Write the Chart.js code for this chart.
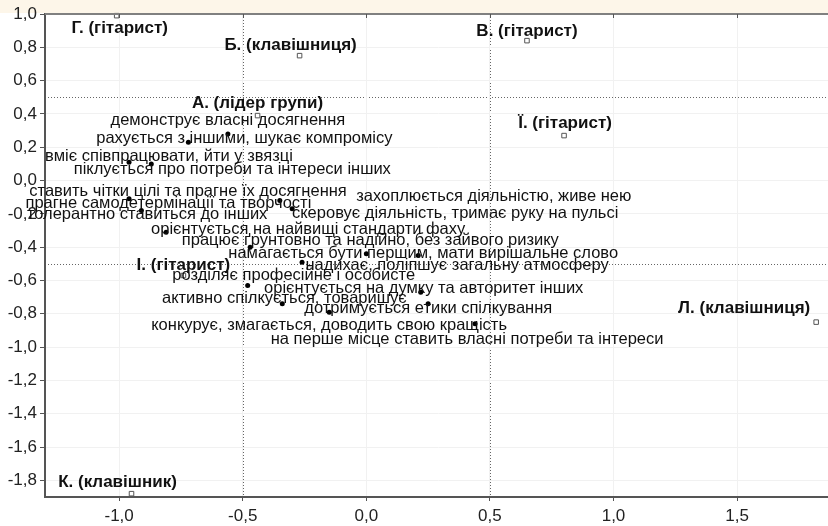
<!DOCTYPE html>
<html>
<head>
<meta charset="utf-8">
<script src="https://cdn.jsdelivr.net/npm/chart.js@4.4.1/dist/chart.umd.min.js"></script>
<style>
  html, body { margin: 0; padding: 0; background: #fff; overflow: hidden; }
  #wrap { position: relative; width: 836px; height: 526px; }
</style>
</head>
<body>
<div id="wrap"><canvas id="chart"></canvas></div>
<script>
// statements (filled dots)
const statements = [
    'демонструє власні досягнення',
    'рахується з іншими, шукає компромісу',
    'вміє співпрацювати, йти у звязці',
    'піклується про потреби та інтереси інших',
    'ставить чітки цілі та прагне їх досягнення',
    'прагне самодетермінації та творчості',
    'толерантно ставиться до інших',
    'захоплюється діяльністю, живе нею',
    'скеровує діяльність, тримає руку на пульсі',
    'орієнтується на найвищі стандарти фаху',
    'працює ґрунтовно та надійно, без зайвого ризику',
    'намагається бути першим, мати вирішальне слово',
    'надихає, поліпшує загальну атмосферу',
    'розділяє професійне і особисте',
    'орієнтується на думку та авторитет інших',
    'активно спілкується, товаришує',
    'дотримується етики спілкування',
    'конкурує, змагається, доводить свою кращість',
    'на перше місце ставить власні потреби та інтереси'
];
const statementX = [-0.56, -0.72, -0.96, -0.87, -0.96, -0.91, -0.81, -0.35, -0.30, -0.47,
                    0.00, 0.21, -0.26, -0.48, 0.22, -0.34, -0.15, 0.25, 0.44];
const statementY = [0.28, 0.23, 0.11, 0.10, -0.11, -0.18, -0.31, -0.12, -0.17, -0.40,
                    -0.44, -0.45, -0.49, -0.63, -0.67, -0.74, -0.79, -0.74, -0.86];

// band members (open squares)
const persons = [
    'Г. (гітарист)', 'Б. (клавішниця)', 'В. (гітарист)', 'Ї. (гітарист)',
    'Л. (клавішниця)', 'К. (клавішник)', 'А. (лідер групи)', 'І. (гітарист)'
];
const personX = [-1.01, -0.27, 0.65, 0.80, 1.82, -0.95, -0.44, -0.74];
const personY = [0.99, 0.75, 0.84, 0.27, -0.85, -1.88, 0.39, -0.57];

const xTicks = [-1.0, -0.5, 0.0, 0.5, 1.0, 1.5];
const yTicks = [1.0, 0.8, 0.6, 0.4, 0.2, 0.0, -0.2, -0.4, -0.6, -0.8, -1.0, -1.2, -1.4, -1.6, -1.8];
const refLinesX = [-0.5, 0.5];
const refLinesY = [0.5, -0.5];

// label placement, pixel offsets from the marker
const statementLabelOffset = [
    [0, -13], [56, -4], [40, -6], [81, 6], [59, -7], [27, -7], [-19, -18], [214, -4],
    [163, 5], [58, -18], [4, -13], [5, -2], [155, 3], [46, -10], [3, -4], [2, -5],
    [99, -4], [-99, 22], [-8, 16]
];
const personLabelOffset = [
    [3, 13], [-9, -10], [0, -9], [1, -12], [-72, -14], [-14, -11], [0, -12], [0, -10]
];

const fmt = v => v.toFixed(1).replace('.', ',');
const FONT = '"Liberation Sans", Arial, sans-serif';

const labelsPlugin = {
    id: 'pointLabels',
    beforeDraw(chart) {
        const { ctx, chartArea, scales } = chart;
        ctx.save();
        // cream band at the very top
        ctx.fillStyle = '#fdf6e9';
        ctx.fillRect(0, 0, chart.width, chartArea.top - 1);
        // dotted reference lines
        ctx.strokeStyle = '#666';
        ctx.lineWidth = 1;
        ctx.setLineDash([1, 2]);
        refLinesX.forEach(v => {
            const x = Math.round(scales.x.getPixelForValue(v)) + 0.5;
            ctx.beginPath();
            ctx.moveTo(x, chartArea.top);
            ctx.lineTo(x, chartArea.bottom);
            ctx.stroke();
        });
        refLinesY.forEach(v => {
            const y = Math.round(scales.y.getPixelForValue(v)) + 0.5;
            ctx.beginPath();
            ctx.moveTo(chartArea.left, y);
            ctx.lineTo(chartArea.right, y);
            ctx.stroke();
        });
        ctx.restore();
    },
    afterDatasetsDraw(chart) {
        const { ctx, chartArea, scales } = chart;
        ctx.save();
        // top frame line with small ticks
        ctx.strokeStyle = '#808080';
        ctx.lineWidth = 2;
        ctx.beginPath();
        ctx.moveTo(chartArea.left, chartArea.top);
        ctx.lineTo(chartArea.right, chartArea.top);
        ctx.stroke();
        ctx.lineWidth = 1;
        ctx.strokeStyle = '#555';
        xTicks.forEach(v => {
            const x = Math.round(scales.x.getPixelForValue(v)) + 0.5;
            ctx.beginPath();
            ctx.moveTo(x, chartArea.top);
            ctx.lineTo(x, chartArea.top + 4);
            ctx.stroke();
        });

        ctx.fillStyle = '#111';
        ctx.textAlign = 'center';
        ctx.textBaseline = 'middle';
        ctx.font = '16.5px ' + FONT;
        statements.forEach((s, i) => {
            const x = scales.x.getPixelForValue(statementX[i]) + statementLabelOffset[i][0];
            const y = scales.y.getPixelForValue(statementY[i]) + statementLabelOffset[i][1];
            ctx.fillText(s, x, y);
        });
        ctx.font = 'bold 17px ' + FONT;
        persons.forEach((s, i) => {
            const x = scales.x.getPixelForValue(personX[i]) + personLabelOffset[i][0];
            const y = scales.y.getPixelForValue(personY[i]) + personLabelOffset[i][1];
            ctx.fillText(s, x, y);
        });
        ctx.restore();
    }
};

new Chart(document.getElementById('chart'), {
    type: 'scatter',
    data: {
        datasets: [
            {
                label: 'statements',
                data: statementX.map((x, i) => ({ x: x, y: statementY[i] })),
                pointStyle: 'circle',
                pointRadius: 2.5,
                backgroundColor: '#000',
                borderColor: '#000',
                borderWidth: 0,
                clip: false
            },
            {
                label: 'persons',
                data: personX.map((x, i) => ({ x: x, y: personY[i] })),
                pointStyle: 'rect',
                pointRadius: 3.2,
                backgroundColor: '#fff',
                borderColor: '#555',
                borderWidth: 1,
                clip: false
            }
        ]
    },
    options: {
        responsive: true,
        maintainAspectRatio: false,
        animation: false,
        events: [],
        layout: { padding: { top: 14, right: 4, left: 0, bottom: 0 } },
        plugins: {
            legend: { display: false },
            tooltip: { enabled: false }
        },
        scales: {
            x: {
                type: 'linear',
                min: -1.3,
                max: 1.88,
                afterBuildTicks: scale => { scale.ticks = xTicks.map(v => ({ value: v })); },
                afterFit: scale => { scale.height = 29; },
                border: { color: '#555', width: 2 },
                grid: { color: '#f1f1f1', tickColor: '#555', tickLength: 4 },
                ticks: {
                    callback: v => fmt(v),
                    color: '#222',
                    padding: 5,
                    maxRotation: 0,
                    font: { family: FONT, size: 17 }
                }
            },
            y: {
                type: 'linear',
                min: -1.9,
                max: 1.0,
                afterBuildTicks: scale => { scale.ticks = yTicks.map(v => ({ value: v })); },
                afterFit: scale => { scale.width = 45; },
                border: { color: '#555', width: 2 },
                grid: { color: '#f1f1f1', tickColor: '#555', tickLength: 5 },
                ticks: {
                    callback: v => fmt(v),
                    color: '#222',
                    padding: 3,
                    font: { family: FONT, size: 17 }
                }
            }
        }
    },
    plugins: [labelsPlugin]
});
</script>
</body>
</html>
